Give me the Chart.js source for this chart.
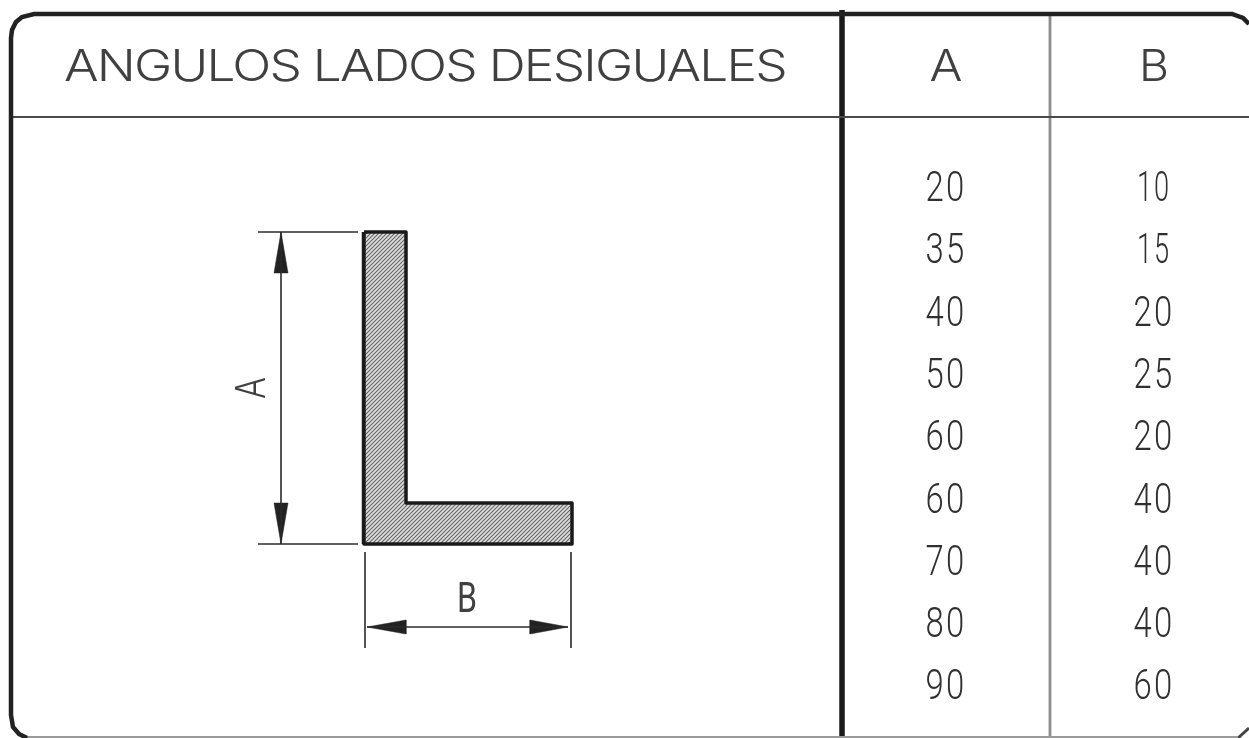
<!DOCTYPE html>
<html lang="es">
<head>
<meta charset="utf-8">
<title>Angulos lados desiguales</title>
<style>
  html, body { margin: 0; background: #fff; overflow: hidden; }
  canvas { display: block; filter: blur(0.5px); }
</style>
<script src="https://cdn.jsdelivr.net/npm/chart.js@4/dist/chart.umd.min.js"></script>
</head>
<body>
<canvas id="chart" width="1249" height="738"></canvas>
<script>
// Table values
const TITLE = "ANGULOS LADOS DESIGUALES";
const COLUMN_LABELS = ["A", "B"];
const VALUES_A = [20, 35, 40, 50, 60, 60, 70, 80, 90];
const VALUES_B = [10, 15, 20, 25, 20, 40, 40, 40, 60];

// Drawing geometry, in units of the x and y scales
const FRAME = [[1249, 24], [1243, 18], [1232, 14], [34, 14], [22, 17], [16, 22], [12, 30], [11, 38],
  [11, 715], [13, 727], [19, 734], [27, 738]];
const BOTTOM_EDGE = [[27, 737], [1238, 737]];
const BOTTOM_CORNER = [[1238, 738], [1249, 728]];
const HEADER_RULE = [[11, 117], [1249, 117]];
const MAIN_DIVIDER = [[842, 10], [842, 738]];
const COLUMN_DIVIDER = [[1050, 14], [1050, 738]];
const PROFILE = [[364, 232], [406, 232], [406, 503], [572, 503], [572, 544], [364, 544], [364, 232]];
const PROFILE_BACK = [[364, 232], [364, 544]];
const DIMENSION_LINES = [
  [[258, 232], [358, 232]],
  [[258, 544], [358, 544]],
  [[281, 232], [281, 544]],
  [[365, 552], [365, 648]],
  [[571, 552], [571, 648]],
  [[367, 627], [568, 627]],
];
const ARROWS = [
  [[281, 232], [288, 273], [274, 273], [281, 232]],
  [[281, 544], [288, 503], [274, 503], [281, 544]],
  [[367, 627], [406, 620], [406, 634], [367, 627]],
  [[568, 627], [530, 620], [530, 634], [568, 627]],
];

const INK = "#404040";

function toPoints(list) {
  return list.map(([x, y]) => ({ x, y }));
}

function lineDataset(list, color, width) {
  return {
    data: toPoints(list),
    showLine: true,
    borderColor: color,
    borderWidth: width,
    pointRadius: 0,
    tension: 0,
    clip: false,
  };
}

// Diagonal hatch of the section
function hatchPattern() {
  const tile = document.createElement("canvas");
  tile.width = 4;
  tile.height = 4;
  const c = tile.getContext("2d");
  c.fillStyle = "#dedede";
  c.fillRect(0, 0, 4, 4);
  c.strokeStyle = "#666666";
  c.lineWidth = 1.1;
  c.beginPath();
  c.moveTo(-1, 1);
  c.lineTo(1, -1);
  c.moveTo(-1, 5);
  c.lineTo(5, -1);
  c.moveTo(3, 5);
  c.lineTo(5, 3);
  c.stroke();
  return c.createPattern(tile, "repeat");
}

// Text squeezed or stretched to the width it has in the picture
function fitText(ctx, text, x, y, font, width, color, angle, spacing) {
  ctx.save();
  ctx.translate(x, y);
  if (angle) ctx.rotate(angle);
  ctx.font = font;
  ctx.fillStyle = color;
  ctx.textAlign = "center";
  ctx.textBaseline = "alphabetic";
  if (spacing) ctx.letterSpacing = spacing;
  ctx.scale(width / ctx.measureText(text).width, 1);
  ctx.fillText(text, 0, 0);
  ctx.restore();
}

const tableText = {
  id: "tableText",
  afterDatasetsDraw(chart) {
    const { ctx, scales } = chart;
    const x = scales.x;
    const y = scales.y;
    const row = scales.row;
    const titleFont = '300 43px "Inter", "Liberation Sans", sans-serif';
    const numFont = '300 43px "Roboto", "Liberation Sans", sans-serif';

    fitText(ctx, TITLE, x.getPixelForValue(425), y.getPixelForValue(81), titleFont, 722, INK, 0, "-1.5px");
    fitText(ctx, COLUMN_LABELS[0], x.getPixelForValue(946), y.getPixelForValue(81), titleFont, 33, INK);
    fitText(ctx, COLUMN_LABELS[1], x.getPixelForValue(1154), y.getPixelForValue(81), titleFont, 30, INK);

    // Labels of the section drawing
    fitText(ctx, COLUMN_LABELS[0], x.getPixelForValue(265), y.getPixelForValue(388), '300 41px "Inter", sans-serif', 22, INK, -Math.PI / 2);
    fitText(ctx, COLUMN_LABELS[1], x.getPixelForValue(467), y.getPixelForValue(612), '400 42px "Roboto", sans-serif', 20, INK);

    VALUES_A.forEach((value, i) => {
      fitText(ctx, String(value), x.getPixelForValue(946), row.getPixelForValue(i) + 15.5, numFont, 41, "#303030", 0, "3px");
    });
    VALUES_B.forEach((value, i) => {
      const narrow = value === 10 || value === 15;
      fitText(ctx, String(value), x.getPixelForValue(1154), row.getPixelForValue(i) + 15.5, numFont, narrow ? 34 : 41, "#303030", 0, "3px");
    });
  },
};

const datasets = [
  lineDataset(FRAME, "#222222", 4.5),
  lineDataset(BOTTOM_EDGE, "#9a9a9a", 2),
  lineDataset(BOTTOM_CORNER, "#444444", 3),
  lineDataset(HEADER_RULE, "#4a4a4a", 1.8),
  lineDataset(COLUMN_DIVIDER, "#8c8c8c", 2.8),
  lineDataset(MAIN_DIVIDER, "#1a1a1a", 5.5),
  Object.assign(lineDataset(PROFILE, "#1a1a1a", 3.5), {
    fill: "shape",
    backgroundColor: hatchPattern(),
    borderJoinStyle: "round",
  }),
  lineDataset(PROFILE_BACK, "#1a1a1a", 4.5),
];
DIMENSION_LINES.forEach((line) => datasets.push(lineDataset(line, "#2a2a2a", 1.6)));
ARROWS.forEach((arrow) => {
  datasets.push(Object.assign(lineDataset(arrow, "#222222", 0.5), {
    fill: "shape",
    backgroundColor: "#222222",
  }));
});

new Chart(document.getElementById("chart"), {
  type: "scatter",
  data: { datasets },
  options: {
    responsive: false,
    animation: false,
    events: [],
    layout: { padding: 0 },
    plugins: { legend: { display: false }, tooltip: { enabled: false } },
    scales: {
      x: { type: "linear", min: 0, max: 1249, display: false },
      y: { type: "linear", min: 0, max: 738, reverse: true, display: false },
      // Table rows: row 0 and row 8 fall on the first and last line of numbers
      row: { type: "linear", axis: "y", min: -2.977, max: 8.867, reverse: true, display: false },
    },
  },
  plugins: [tableText],
});
</script>
</body>
</html>
